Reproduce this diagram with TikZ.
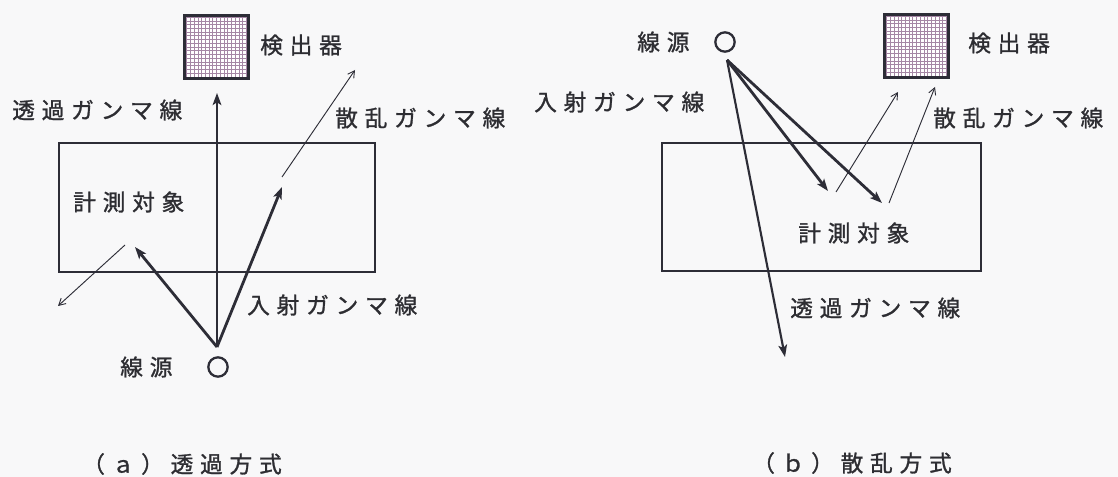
\documentclass[tikz,border=0pt]{standalone}
\usepackage{fontspec}
\newfontfamily\jp[LetterSpace=30,FakeBold=1.2]{Noto Sans CJK JP}
\usetikzlibrary{arrows.meta}
\definecolor{ink}{RGB}{45,45,55}
\definecolor{txt}{RGB}{45,45,50}
\definecolor{bg}{RGB}{248,248,249}
\definecolor{dotc}{RGB}{165,135,165}
\tikzset{
  lbl/.style={anchor=west, inner sep=0pt, text=txt, font=\jp\fontsize{17pt}{20pt}\selectfont},
  objbox/.style={draw=ink, line width=1.9pt, rectangle, inner sep=0pt},
  detector/.style={draw=ink, line width=2.3pt, rectangle, fill=white, minimum width=47.5pt, minimum height=47.5pt, inner sep=0pt,
    path picture={\draw[dotc, line width=0.45pt] (path picture bounding box.south west) grid[step=2.8pt] (path picture bounding box.north east);}},
  src/.style={draw=ink, line width=1.7pt, circle, minimum size=14.5pt, inner sep=0pt},
  beam/.style={draw=ink, line width=2.1pt, -{Stealth[length=9pt,width=6.5pt,inset=2pt]}},
  tbeam/.style={draw=ink, line width=1.6pt, -{Stealth[length=9pt,width=6.5pt,inset=2pt]}},
  scat/.style={draw=ink, line width=0.7pt, -{Straight Barb[length=5pt,width=5.5pt]}},
}
\begin{document}
\begin{tikzpicture}[x=0.75pt, y=-0.75pt]
\fill[bg] (0,0) rectangle (1118,477);
\useasboundingbox (0,0) rectangle (1118,477);

% ---------- (a) transmission ----------
\node[objbox, minimum width=237pt, minimum height=96.75pt] (objL) at (217,207.5) {};
\node[detector] (detL) at (216.5,47) {};
\node[src] (srcL) at (218,367) {};
\coordinate (apexL) at (217,347);
\coordinate (tipTL) at (217,93);
\coordinate (tipIL1) at (282,187);
\coordinate (tipIL2) at (135,247);
\coordinate (sL1a) at (282,177);
\coordinate (sL1b) at (355,70);
\coordinate (sL2a) at (125,245);
\coordinate (sL2b) at (58,306);

\draw[tbeam] (apexL) -- (tipTL);
\draw[beam] (apexL) -- (tipIL1);
\draw[beam] (apexL) -- (tipIL2);
\draw[scat] (sL1a) -- (sL1b);
\draw[scat] (sL2a) -- (sL2b);

\node[lbl] (detLt) at (260,45) {検出器};
\node[lbl] (trLt) at (12,110) {透過ガンマ線};
\node[lbl] (scLt) at (335,118) {散乱ガンマ線};
\node[lbl] (obLt) at (73,202) {計測対象};
\node[lbl] (inLt) at (247,305) {入射ガンマ線};
\node[lbl] (srLt) at (120,367) {線源};
\node[lbl] (capL) at (82,464) {（ａ）透過方式};

% ---------- (b) scattering ----------
\node[objbox, minimum width=239.25pt, minimum height=96pt] (objR) at (821.5,207) {};
\node[detector] (detR) at (916.5,46) {};
\node[src] (srcR) at (725,42) {};
\coordinate (apexR) at (727,60);
\coordinate (tipIR1) at (828,191);
\coordinate (tipIR2) at (882,203);
\coordinate (tipTR) at (785,357);
\coordinate (sR1a) at (836,192);
\coordinate (sR1b) at (898,92);
\coordinate (sR2a) at (889,203);
\coordinate (sR2b) at (935,87);

\draw[beam] (apexR) -- (tipIR1);
\draw[beam] (apexR) -- (tipIR2);
\draw[tbeam] (apexR) -- (tipTR);
\draw[scat] (sR1a) -- (sR1b);
\draw[scat] (sR2a) -- (sR2b);

\node[lbl] (srRt) at (637,42) {線源};
\node[lbl] (detRt) at (968,43) {検出器};
\node[lbl] (inRt) at (534,102) {入射ガンマ線};
\node[lbl] (scRt) at (933,118) {散乱ガンマ線};
\node[lbl] (obRt) at (798,233) {計測対象};
\node[lbl] (trRt) at (790,308) {透過ガンマ線};
\node[lbl] (capR) at (752,463) {（ｂ）散乱方式};
\end{tikzpicture}
\end{document}
